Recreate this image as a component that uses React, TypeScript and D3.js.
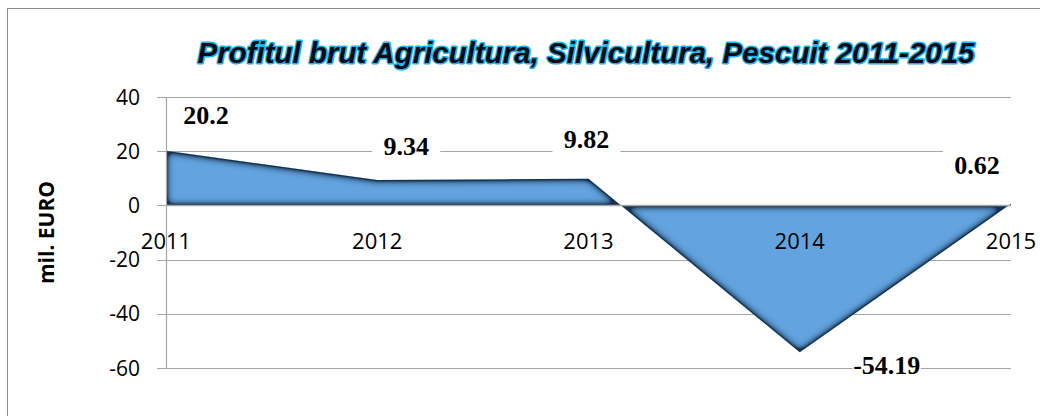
import * as d3 from "d3";
import { useEffect, useRef } from "react";

const years = ["2011", "2012", "2013", "2014", "2015"];
const profit = [20.2, 9.34, 9.82, -54.19, 0.62];
const yTicks = [40, 20, 0, -20, -40, -60];

const TITLE = "Profitul brut Agricultura, Silvicultura, Pescuit 2011-2015";
const Y_TITLE = "mil. EURO";

function App() {
  const ref = useRef<SVGSVGElement>(null);

  useEffect(() => {
    const svg = d3.select(ref.current);
    svg.selectAll("*").remove();

    const width = 1040;
    const height = 416;
    const margin = { top: 97, right: 29, bottom: 48, left: 166 };
    const plotW = width - margin.left - margin.right;
    const plotH = height - margin.top - margin.bottom;

    svg.attr("width", width).attr("height", height);

    // chart frame
    svg.append("rect")
      .attr("x", 7.5).attr("y", 8.5)
      .attr("width", width).attr("height", height)
      .attr("fill", "#fff")
      .attr("stroke", "#8c8c8c");

    // inner shadow for the area
    const defs = svg.append("defs");
    const f = defs.append("filter").attr("id", "inner")
      .attr("x", "-10%").attr("y", "-10%").attr("width", "120%").attr("height", "120%");
    f.append("feComponentTransfer").attr("in", "SourceAlpha").attr("result", "inv")
      .append("feFuncA").attr("type", "table").attr("tableValues", "1 0");
    f.append("feGaussianBlur").attr("in", "inv").attr("stdDeviation", 4.5).attr("result", "blur");
    f.append("feComponentTransfer").attr("in", "blur").attr("result", "blur2")
      .append("feFuncA").attr("type", "linear").attr("slope", 2.4);
    f.append("feFlood").attr("flood-color", "#143050").attr("result", "col");
    f.append("feComposite").attr("in", "col").attr("in2", "blur2").attr("operator", "in").attr("result", "sh");
    f.append("feComposite").attr("in", "sh").attr("in2", "SourceAlpha").attr("operator", "in").attr("result", "shin");
    const m = f.append("feMerge");
    m.append("feMergeNode").attr("in", "SourceGraphic");
    m.append("feMergeNode").attr("in", "shin");

    const g = svg.append("g").attr("transform", `translate(${margin.left},${margin.top})`);

    const x = d3.scalePoint<string>().domain(years).range([0, plotW]);
    const y = d3.scaleLinear().domain([-60, 40]).range([plotH, 0]);

    // gridlines
    g.selectAll(".grid")
      .data(yTicks)
      .enter()
      .append("line")
      .attr("x1", -9).attr("x2", plotW)
      .attr("y1", d => Math.round(y(d)) + 0.5).attr("y2", d => Math.round(y(d)) + 0.5)
      .attr("stroke", "#a6a6a6").attr("stroke-width", 1.2);

    // area
    const area = d3.area<number>()
      .x((_, i) => x(years[i]) as number)
      .y0(y(0))
      .y1(d => y(d));

    g.append("path")
      .datum(profit)
      .attr("d", area)
      .attr("fill", "#63a4e0")
      .attr("filter", "url(#inner)");

    // axis lines
    g.append("line")
      .attr("x1", 0.5).attr("x2", 0.5).attr("y1", y(40)).attr("y2", y(-60))
      .attr("stroke", "#a6a6a6").attr("stroke-width", 1.2);
    g.append("line")
      .attr("x1", 0).attr("x2", plotW)
      .attr("y1", Math.round(y(0)) + 0.5).attr("y2", Math.round(y(0)) + 0.5)
      .attr("stroke", "#a6a6a6").attr("stroke-width", 1.5);

    const sans = "'Open Sans', sans-serif";

    // y tick labels
    g.selectAll(".ytick")
      .data(yTicks)
      .enter()
      .append("text")
      .attr("x", -26)
      .attr("y", d => y(d))
      .attr("dy", "0.36em")
      .attr("text-anchor", "end")
      .style("font-family", sans)
      .style("font-size", "21px")
      .text(d => d);

    // category labels
    g.selectAll(".xtick")
      .data(years)
      .enter()
      .append("text")
      .attr("x", d => x(d) as number)
      .attr("y", y(0) + 44)
      .attr("text-anchor", "middle")
      .style("font-family", sans)
      .style("font-size", "22px")
      .text(d => d);

    // data labels (manually placed, as in the source)
    const labelOffset = [[40, -27], [29, -25], [-2, -31], [87, 22], [-34, -30]];
    const lab = g.selectAll(".lab")
      .data(profit)
      .enter()
      .append("g")
      .attr("transform", (d, i) =>
        `translate(${(x(years[i]) as number) + labelOffset[i][0]},${y(d) + labelOffset[i][1]})`);
    lab.append("rect")
      .attr("x", -34).attr("y", -24).attr("width", 68).attr("height", 30)
      .attr("fill", "#fff");
    lab.append("text")
      .attr("text-anchor", "middle")
      .style("font-family", "'Liberation Serif', 'Times New Roman', serif")
      .style("font-weight", "bold")
      .style("font-size", "26px")
      .text(d => String(d));

    // title
    svg.append("text")
      .attr("x", 586)
      .attr("y", 63)
      .attr("text-anchor", "middle")
      .style("font-family", "'Liberation Sans', Arial, sans-serif")
      .style("font-weight", "bold")
      .style("font-style", "italic")
      .style("font-size", "29.5px")
      .attr("fill", "#0a0a14")
      .attr("stroke", "#1cb2ef")
      .attr("stroke-width", 3)
      .attr("stroke-linejoin", "round")
      .attr("paint-order", "stroke")
      .text(TITLE);

    // y axis title
    svg.append("text")
      .attr("transform", `translate(54,${margin.top + plotH / 2}) rotate(-90)`)
      .attr("text-anchor", "middle")
      .style("font-family", sans)
      .style("font-weight", "bold")
      .style("font-size", "21px")
      .text(Y_TITLE);
  }, []);

  return (
    <div style={{ position: "absolute", left: 0, top: 0, width: 1040, height: 416, overflow: "hidden" }}>
      <svg ref={ref} style={{ display: "block" }} />
    </div>
  );
}

export default App;
